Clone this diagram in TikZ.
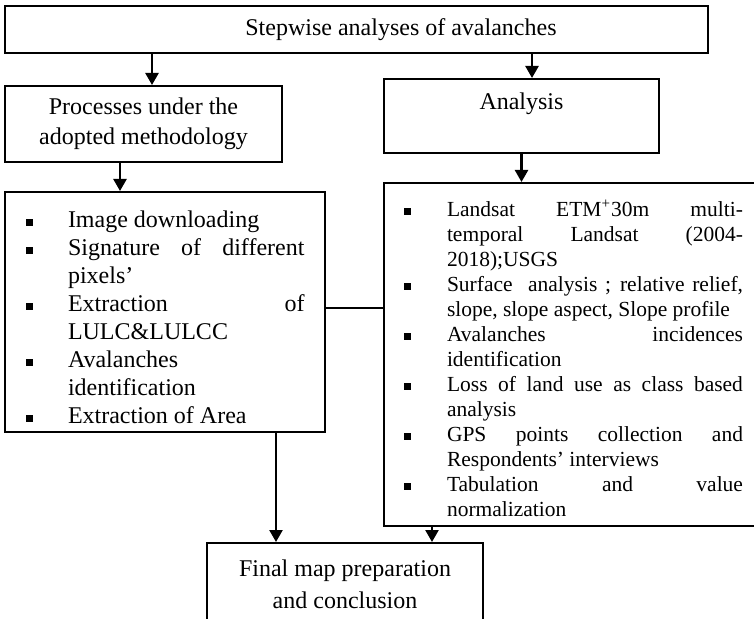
\documentclass[tikz,border=0pt]{standalone}
\usepackage{fontspec}
\setmainfont{Liberation Serif}
\usepackage{tikz}
\usetikzlibrary{arrows.meta}

\newlength\bulletsize
\newlength\bulletind
\newcommand{\listsetup}[2]{\setlength\bulletsize{#1}\setlength\bulletind{#2}\hyphenpenalty=10000 \exhyphenpenalty=10000 \tolerance=9999 \hbadness=10000 \hfuzz=2pt}
\newcommand{\sqitem}{\par\hangindent=\bulletind\hangafter=1\noindent\makebox[\bulletind][l]{\rule[0.3\bulletsize]{\bulletsize}{\bulletsize}}}

\begin{document}
\begin{tikzpicture}[x=0.5pt,y=0.5pt]
\tikzstyle{every node}+=[inner sep=0pt]
\tikzstyle{box}=[draw, line width=1pt, align=center]
\tikzstyle{listbox}=[draw, line width=1pt, align=justify]
\tikzstyle{arr}=[line width=1.2pt, -{Triangle[width=6.5pt,length=6pt]}]
\useasboundingbox (0,0) rectangle (754,-619);
\fill [white] (0,0) rectangle (754,-619);
\clip (0,0) rectangle (754,-619);
\node [box, minimum width=351.5pt, minimum height=23.5pt, font=\fontsize{12}{15}\selectfont] (steps) at (356.5,-29.5) {\hspace*{44.5pt}Stepwise analyses of avalanches};
\node [box, minimum width=138.5pt, minimum height=38pt, font=\fontsize{12}{15}\selectfont] (proc) at (143.5,-124) {Processes under the\\adopted methodology};
\node [box, minimum width=137.5pt, minimum height=37pt, font=\fontsize{12}{15}\selectfont] (anal) at (521.5,-116) {Analysis\\\mbox{}};
\node [listbox, text width=139.5pt, inner xsep=10.25pt, minimum height=120pt, font=\fontsize{12}{14}\selectfont] (leftlist) at (165,-312) {\listsetup{3.5pt}{21.25pt}%
\sqitem Image downloading
\sqitem Signature of different\linebreak pixels'
\sqitem Extraction of\linebreak LULC\&LULCC
\sqitem Avalanches\linebreak identification
\sqitem Extraction of Area\par};
\node [listbox, text width=169.5pt, inner xsep=10pt, minimum height=171.5pt, font=\fontsize{10.75}{12.5}\selectfont] (rightlist) at (573.5,-354.5) {\listsetup{3.25pt}{21.5pt}%
\sqitem Landsat ETM\textsuperscript{+}30m multi-\linebreak temporal Landsat (2004-\linebreak 2018);USGS
\sqitem Surface\ \ analysis ; relative relief,\linebreak slope, slope aspect, Slope profile
\sqitem Avalanches incidences\linebreak identification
\sqitem Loss of land use as class based\linebreak analysis
\sqitem GPS points collection and\linebreak Respondents' interviews
\sqitem Tabulation and value\linebreak normalization\par};
\node [box, minimum width=138pt, minimum height=41pt, font=\fontsize{12}{16}\selectfont] (final) at (345,-584) {Final map preparation\\and conclusion};
\draw [arr] ([xshift=4.25pt]proc.north |- steps.south) -- ([xshift=4.25pt]proc.north);
\draw [arr] ([xshift=5.25pt]anal.north |- steps.south) -- ([xshift=5.25pt]anal.north);
\draw [arr] ([xshift=-11.75pt]proc.south) -- ([xshift=-11.75pt]proc.south |- leftlist.north);
\draw [arr] (anal.south) -- (anal.south |- rightlist.north);
\draw [line width=1pt] ([yshift=2pt]leftlist.east) -- ([yshift=2pt]leftlist.east -| rightlist.west);
\draw [arr] ([xshift=-25pt]leftlist.south east) -- ([xshift=-25pt]leftlist.south east |- final.north);
\draw [arr] ([xshift=24.5pt]rightlist.south west) -- ([xshift=24.5pt]rightlist.south west |- final.north);
\end{tikzpicture}
\end{document}
